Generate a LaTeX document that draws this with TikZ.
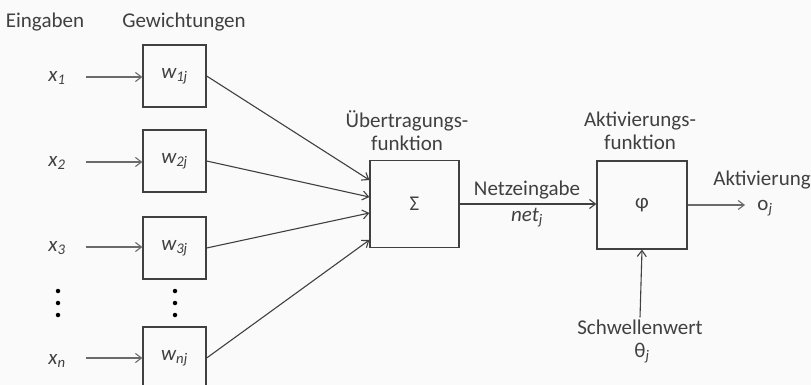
\documentclass[tikz,border=0pt]{standalone}
\usepackage{fontspec}
\setmainfont{Carlito}
\usetikzlibrary{arrows.meta}
\definecolor{ink}{HTML}{404040}
\definecolor{lite}{HTML}{6A6A6A}
\begin{document}
\begin{tikzpicture}[x=1pt,y=-1pt,
  font=\fontsize{21}{23}\selectfont,
  txt/.style={text=ink,inner sep=2pt},
  wbox/.style={draw=ink,line width=1.3pt,minimum width=63pt,minimum height=62pt,text=ink,inner sep=0pt},
  bigbox/.style={draw=ink,line width=1.3pt,minimum width=89pt,minimum height=87pt,text=ink,inner sep=0pt},
  arr/.style={draw=ink,line width=1.1pt,-{Straight Barb[length=6pt,width=9pt]}},
  inarr/.style={draw=lite,line width=1.1pt,-{Straight Barb[length=6pt,width=9pt]}},
  dot/.style={circle,fill=black,inner sep=0pt,minimum size=4.5pt}]
\useasboundingbox (0,0) rectangle (811,385);
\fill[white!98!black] (0,0) rectangle (811,385);
\clip (0,0) rectangle (811,385);
% headings
\node[txt] (hin) at (45,22) {Eingaben};
\node[txt] (hw) at (184,22) {Gewichtungen};
% inputs
\node[txt] (x1) at (57,78) {\textit{x\textsubscript{1}}};
\node[txt] (x2) at (57,163) {\textit{x\textsubscript{2}}};
\node[txt] (x3) at (57,248) {\textit{x\textsubscript{3}}};
\node[txt] (xn) at (57,361) {\textit{x\textsubscript{n}}};
% weight boxes
\node[wbox] (w1) at (174.5,76) {\textit{w\textsubscript{1j}}};
\node[wbox] (w2) at (174.5,161) {\textit{w\textsubscript{2j}}};
\node[wbox] (w3) at (174.5,248) {\textit{w\textsubscript{3j}}};
\node[wbox] (wn) at (174.5,358) {\textit{w\textsubscript{nj}}};
% dots
\node[dot] (d1) at (58,291) {};
\node[dot] (d2) at (58,303) {};
\node[dot] (d3) at (58,315) {};
\node[dot] (e1) at (175,291) {};
\node[dot] (e2) at (175,303) {};
\node[dot] (e3) at (175,315) {};
% input arrows
\coordinate (a1) at (86,77);
\coordinate (a2) at (86,162);
\coordinate (a3) at (86,247);
\coordinate (an) at (86,358);
\draw[inarr] (a1) -- (a1 -| w1.west);
\draw[inarr] (a2) -- (a2 -| w2.west);
\draw[inarr] (a3) -- (a3 -| w3.west);
\draw[inarr] (an) -- (an -| wn.west);
% sum box
\node[bigbox] (sum) at (414.5,204) {Σ};
\node[txt,align=center] (ut) at (407,131) {Übertragungs-\\funktion};
\coordinate (s1) at ([yshift=24pt]sum.west);
\coordinate (s2) at ([yshift=7pt]sum.west);
\coordinate (s3) at ([yshift=-9pt]sum.west);
\coordinate (s4) at ([yshift=-36pt]sum.west);
\draw[arr] (w1.east) -- (s1);
\draw[arr] (w2.east) -- (s2);
\draw[arr] (w3.east) -- (s3);
\draw[arr] (wn.east) -- (s4);
% activation box
\node[bigbox,minimum width=90pt,minimum height=88pt] (phi) at (642,205) {φ};
\node[txt,align=center] (af) at (640,131) {Aktivierungs-\\funktion};
\draw[arr] (sum.east) -- (sum.east -| phi.west);
\node[txt] (net) at (527,190) {Netzeingabe};
\node[txt] (netj) at (527,218) {\textit{net\textsubscript{j}}};
% output
\coordinate (out) at (745,205);
\draw[inarr] (phi.east) -- (out);
\node[txt] (akt) at (762,180) {Aktivierung};
\node[txt] (oj) at (765,208) {o\textsubscript{\textit{j}}};
% threshold
\node[txt] (sw) at (640,327) {Schwellenwert};
\node[txt] (th) at (642,353) {θ\textsubscript{\textit{j}}};
\draw[arr] (sw.north) -- (phi.south);
\end{tikzpicture}
\end{document}
